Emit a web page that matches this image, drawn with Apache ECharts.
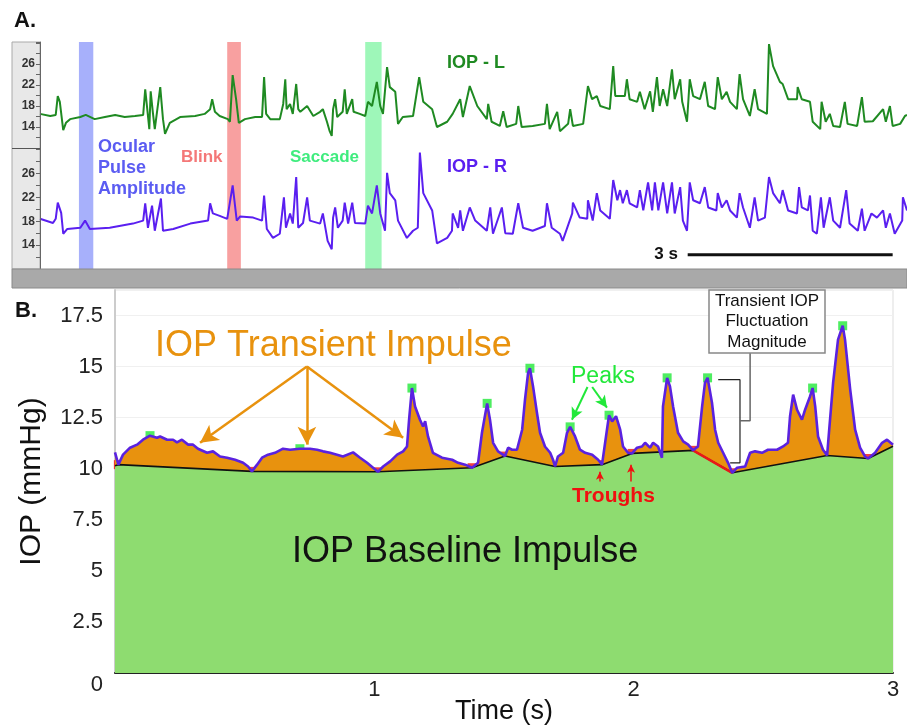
<!DOCTYPE html>
<html><head><meta charset="utf-8">
<script src="https://cdn.jsdelivr.net/npm/echarts@6/dist/echarts.min.js"></script>
<style>html,body{margin:0;padding:0;background:#fff}#c{width:907px;height:728px}</style>
</head><body><div id="c"></div>
<script>
// ---------- Panel A data: time (s), IOP (mmHg) ----------
const iopL = [[0.00,16.5],[0.15,16.1],[0.23,16.3],[0.26,19.9],[0.29,18.8],[0.34,13.4],[0.38,14.8],[0.44,15.5],[0.59,15.9],[0.67,16.3],[0.80,15.5],[0.95,15.9],[1.10,16.3],[1.24,15.9],[1.39,16.1],[1.51,16.3],[1.54,21.2],[1.57,17.4],[1.60,13.6],[1.62,20.8],[1.65,17.0],[1.68,13.6],[1.76,21.6],[1.80,15.5],[1.83,12.7],[1.90,14.8],[2.05,15.9],[2.27,16.1],[2.41,16.5],[2.49,17.4],[2.52,19.3],[2.56,16.9],[2.63,16.1],[2.75,15.5],[2.78,15.0],[2.82,23.9],[2.87,19.3],[2.91,14.8],[3.00,15.5],[3.15,15.9],[3.25,15.9],[3.28,23.5],[3.31,16.5],[3.37,15.5],[3.51,15.5],[3.56,18.4],[3.59,23.1],[3.61,17.4],[3.66,18.4],[3.70,16.5],[3.75,22.2],[3.78,17.4],[3.81,16.9],[3.91,18.0],[4.00,16.1],[4.10,16.9],[4.14,17.4],[4.20,15.0],[4.24,13.2],[4.27,12.3],[4.29,17.4],[4.32,19.3],[4.35,15.9],[4.43,16.9],[4.46,21.2],[4.49,16.5],[4.57,19.3],[4.59,16.9],[4.68,16.5],[4.76,16.1],[4.80,18.8],[4.86,18.0],[4.93,22.6],[4.98,18.0],[5.02,16.5],[5.08,25.4],[5.12,21.6],[5.20,20.7],[5.24,14.6],[5.31,15.9],[5.46,16.1],[5.55,23.5],[5.61,18.8],[5.74,17.4],[5.81,14.0],[5.96,15.0],[6.04,16.5],[6.15,19.3],[6.19,15.9],[6.29,21.8],[6.40,18.0],[6.54,15.5],[6.56,18.4],[6.61,15.0],[6.73,14.2],[6.78,17.0],[6.83,14.0],[6.97,14.6],[7.00,18.0],[7.05,14.0],[7.21,14.2],[7.39,14.6],[7.42,18.4],[7.46,13.6],[7.57,16.9],[7.61,13.2],[7.73,14.6],[7.76,17.4],[7.80,14.2],[7.95,14.6],[8.02,21.8],[8.08,19.3],[8.15,19.9],[8.20,18.0],[8.34,17.4],[8.39,25.6],[8.42,19.9],[8.56,19.9],[8.59,23.1],[8.63,19.3],[8.74,18.8],[8.78,20.7],[8.85,17.4],[8.93,20.8],[8.97,16.9],[9.03,23.5],[9.07,18.0],[9.12,21.2],[9.18,18.0],[9.25,25.0],[9.29,19.3],[9.37,23.1],[9.40,18.8],[9.47,15.0],[9.51,23.1],[9.56,19.9],[9.66,19.3],[9.73,22.6],[9.78,18.0],[9.88,17.4],[9.92,23.5],[9.98,19.3],[10.05,20.7],[10.10,18.8],[10.20,17.4],[10.24,24.1],[10.29,19.3],[10.39,16.1],[10.46,21.2],[10.51,17.4],[10.64,16.5],[10.67,29.8],[10.73,25.6],[10.83,22.6],[10.87,22.2],[10.95,19.3],[11.08,19.3],[11.09,21.6],[11.15,19.3],[11.27,18.8],[11.31,15.0],[11.42,13.6],[11.44,18.8],[11.50,15.0],[11.56,16.5],[11.61,14.2],[11.71,14.0],[11.78,18.8],[11.82,14.6],[11.96,14.2],[12.03,19.7],[12.07,15.0],[12.19,15.1],[12.34,17.4],[12.38,15.0],[12.44,18.0],[12.48,14.2],[12.59,14.6],[12.66,16.1],[12.69,16.3]];
const iopR = [[0.00,18.4],[0.19,17.7],[0.23,18.4],[0.26,21.1],[0.31,19.4],[0.34,15.9],[0.40,16.7],[0.59,16.9],[0.66,18.1],[0.73,16.7],[1.02,16.9],[1.36,17.6],[1.51,18.1],[1.54,21.0],[1.58,16.9],[1.64,20.6],[1.68,16.4],[1.77,21.8],[1.80,16.4],[1.95,16.7],[2.20,17.6],[2.46,18.1],[2.49,21.0],[2.53,19.3],[2.63,18.9],[2.74,18.4],[2.82,24.0],[2.88,18.1],[2.93,18.8],[3.12,18.6],[3.25,18.1],[3.28,22.3],[3.32,16.7],[3.41,15.2],[3.51,15.9],[3.57,22.0],[3.60,16.9],[3.66,19.3],[3.70,17.6],[3.75,25.4],[3.78,16.9],[3.85,17.7],[3.91,22.0],[3.95,18.1],[4.10,17.6],[4.14,19.3],[4.21,14.7],[4.27,13.3],[4.29,18.6],[4.32,20.3],[4.36,16.9],[4.43,18.1],[4.46,21.1],[4.51,17.6],[4.57,21.1],[4.61,17.7],[4.76,17.6],[4.80,20.6],[4.86,19.3],[4.93,24.0],[4.98,19.3],[5.05,16.4],[5.08,26.1],[5.12,22.7],[5.20,21.5],[5.24,18.1],[5.37,15.2],[5.46,16.4],[5.53,16.9],[5.56,29.5],[5.61,22.7],[5.74,19.8],[5.81,14.3],[5.96,15.2],[6.03,16.4],[6.04,19.3],[6.12,16.9],[6.15,19.8],[6.19,16.4],[6.29,20.3],[6.37,18.1],[6.54,16.4],[6.59,20.3],[6.63,15.9],[6.76,20.3],[6.81,16.0],[6.92,15.9],[7.00,21.0],[7.07,16.9],[7.21,16.4],[7.39,17.2],[7.42,21.0],[7.49,16.9],[7.61,15.9],[7.65,14.7],[7.79,19.3],[7.80,21.1],[7.90,18.6],[8.01,18.4],[8.02,21.5],[8.09,18.1],[8.15,22.7],[8.20,19.8],[8.34,18.4],[8.39,24.9],[8.45,21.5],[8.49,23.2],[8.53,21.0],[8.59,23.2],[8.63,21.0],[8.74,20.3],[8.78,23.2],[8.83,19.8],[8.90,24.5],[8.96,19.8],[9.00,24.5],[9.05,19.8],[9.12,24.5],[9.18,19.3],[9.25,24.5],[9.29,19.3],[9.37,23.7],[9.41,18.1],[9.47,16.4],[9.51,24.5],[9.56,21.5],[9.66,21.0],[9.73,23.7],[9.78,20.3],[9.90,19.8],[9.92,22.7],[9.98,20.3],[10.05,21.5],[10.10,19.8],[10.20,18.6],[10.24,22.7],[10.29,20.3],[10.39,16.9],[10.46,22.0],[10.51,18.1],[10.61,18.6],[10.67,25.4],[10.73,22.7],[10.83,21.0],[10.87,23.2],[10.95,19.8],[11.08,19.3],[11.11,23.7],[11.15,20.3],[11.24,19.8],[11.27,22.3],[11.31,16.4],[11.37,15.9],[11.43,22.0],[11.47,16.9],[11.56,22.0],[11.61,18.1],[11.71,16.9],[11.80,23.2],[11.85,17.6],[11.97,16.4],[12.03,20.1],[12.07,16.4],[12.17,19.3],[12.25,18.6],[12.34,19.8],[12.38,16.9],[12.44,19.3],[12.51,15.9],[12.62,18.1],[12.63,22.0],[12.69,19.8]];
const bandsA = [[0.57,0.78,'rgba(79,97,247,0.5)'],[2.74,2.94,'rgba(241,65,65,0.5)'],[4.76,5.00,'rgba(61,239,115,0.5)']];
const scaleBar = [[9.48,12.4],[12.48,12.4]];
const ticksA = [14,18,22,26];

// ---------- Panel B data: time (s), IOP (mmHg) ----------
const signalB = [[0.000,10.80],[0.013,10.20],[0.031,10.69],[0.058,11.03],[0.085,11.18],[0.108,11.42],[0.135,11.62],[0.162,11.52],[0.174,11.58],[0.201,11.42],[0.224,11.42],[0.239,11.29],[0.258,11.42],[0.282,11.18],[0.301,11.18],[0.320,10.98],[0.355,10.78],[0.378,10.85],[0.405,10.60],[0.432,10.54],[0.463,10.44],[0.494,10.29],[0.513,10.11],[0.528,9.87],[0.548,10.20],[0.567,10.54],[0.590,10.69],[0.617,10.78],[0.648,10.98],[0.675,10.93],[0.713,10.98],[0.752,10.98],[0.779,10.93],[0.802,10.85],[0.829,10.78],[0.856,10.69],[0.879,10.60],[0.918,10.80],[0.945,10.54],[0.972,10.29],[0.995,10.05],[1.014,9.85],[1.034,10.11],[1.061,10.36],[1.088,10.69],[1.111,10.85],[1.126,11.09],[1.134,12.40],[1.145,13.95],[1.157,13.05],[1.176,12.40],[1.188,12.07],[1.196,12.32],[1.207,11.58],[1.226,10.78],[1.261,10.54],[1.300,10.44],[1.323,10.29],[1.350,10.20],[1.377,10.05],[1.400,10.29],[1.415,11.76],[1.435,13.20],[1.446,12.40],[1.458,11.27],[1.477,10.85],[1.504,10.62],[1.516,11.03],[1.531,10.93],[1.550,10.93],[1.570,11.91],[1.581,13.38],[1.593,14.70],[1.600,14.92],[1.612,14.03],[1.627,12.74],[1.639,11.76],[1.658,11.09],[1.678,10.78],[1.689,10.44],[1.697,10.11],[1.708,10.60],[1.728,10.78],[1.743,11.76],[1.755,12.05],[1.774,11.58],[1.793,10.93],[1.813,10.78],[1.840,10.69],[1.863,10.44],[1.878,10.20],[1.897,11.91],[1.905,12.62],[1.917,12.32],[1.932,12.57],[1.948,11.91],[1.959,11.09],[1.978,10.78],[1.994,10.75],[2.013,11.03],[2.032,11.09],[2.044,11.27],[2.063,11.03],[2.075,11.27],[2.094,11.09],[2.109,10.54],[2.113,13.05],[2.129,14.45],[2.140,14.03],[2.152,13.05],[2.171,11.76],[2.191,11.34],[2.210,11.18],[2.229,10.90],[2.248,11.09],[2.264,13.05],[2.275,14.20],[2.285,14.45],[2.302,13.23],[2.314,11.91],[2.326,11.27],[2.345,10.78],[2.364,10.29],[2.380,9.80],[2.399,10.05],[2.430,10.11],[2.449,10.78],[2.468,10.85],[2.495,10.78],[2.518,10.93],[2.553,10.93],[2.576,11.09],[2.595,11.27],[2.603,12.57],[2.615,13.63],[2.630,12.89],[2.649,12.40],[2.661,12.89],[2.680,13.54],[2.690,13.95],[2.700,13.05],[2.711,11.58],[2.730,10.93],[2.746,10.65],[2.754,11.91],[2.769,14.20],[2.788,16.32],[2.806,17.00],[2.815,16.32],[2.835,13.87],[2.854,11.91],[2.873,11.03],[2.892,10.60],[2.904,10.50],[2.931,10.78],[2.958,11.27],[2.977,11.42],[3.000,11.18]];
const troughsB = [[0.013,10.2],[0.528,9.87],[1.014,9.85],[1.377,10.05],[1.504,10.62],[1.697,10.11],[1.878,10.2],[1.994,10.75],[2.229,10.9],[2.38,9.8],[2.746,10.65],[2.904,10.5]];
const baselineB = [[0,10.15]].concat(troughsB, [[3.0,11.1]]);
const peaksB = [[0.135,11.62],[0.713,10.98],[1.145,13.95],[1.435,13.2],[1.6,14.92],[1.755,12.05],[1.905,12.62],[2.129,14.45],[2.285,14.45],[2.69,13.95],[2.806,17.0]];
const highlightSeg = [[2.229,10.9],[2.38,9.8]];
const yellowPt = [[2.30,10.38]];
const bracketB = [[2.326,14.36],[2.41,14.36],[2.41,10.29],[2.372,10.29]];
const connectorB = [[2.449,15.69],[2.449,12.35],[2.41,12.35]];
const transientArrows = [[[0.740,15.0],[0.328,11.27]],[[0.740,15.0],[0.740,11.18]],[[0.740,15.0],[1.111,11.52]]];
const peakArrows = [[[1.822,14.0],[1.762,12.40]],[[1.840,14.0],[1.897,12.99]]];
const troughArrows = [[[1.870,9.38],[1.870,9.85]],[[1.990,9.38],[1.990,10.2]]];
const yTicksB = [0,2.5,5,7.5,10,12.5,15,17.5];
const xTicksB = [1,2,3];

const FONT = "'Liberation Sans', Arial, Helvetica, sans-serif";
const chart = echarts.init(document.getElementById('c'), null, {renderer:'canvas'});

function yAxisA(idx, max){
  return {gridIndex: idx, type:'value', min:10, max:max, interval:2, z:10,
    axisLine:{show:true, lineStyle:{color:'#666', width:1}},
    axisTick:{show:true, length:4, lineStyle:{color:'#666'}},
    splitLine:{show:false},
    axisLabel:{margin:5, fontSize:12, fontWeight:'bold', color:'#333', fontFamily:FONT,
      formatter: v => ticksA.includes(v) ? String(v) : ''}};
}
function xAxisA(idx){ return {gridIndex: idx, type:'value', min:0, max:12.69, show:false}; }
function arrowLines(list){ return list.map(p => [{coord:p[0]},{coord:p[1]}]); }
function txt(x, y, text, font, fill, align){
  return {type:'text', x:x, y:y, z:50, silent:true,
    style:{text:text, font:font, fill:fill, align:align||'left', verticalAlign:'middle', textAlign:align||'left', textVerticalAlign:'middle'}};
}

const option = {
  animation:false,
  backgroundColor:'#fff',
  grid:[
    {left:40, right:0, top:42, height:106, outerBoundsMode:'none', containLabel:false},
    {left:40, right:0, top:148, height:121, outerBoundsMode:'none', containLabel:false},
    {left:115, right:14, top:290, bottom:55, outerBoundsMode:'none', containLabel:false,
      show:true, borderColor:'#ddd', borderWidth:1, backgroundColor:'#fff'}
  ],
  xAxis:[
    xAxisA(0), xAxisA(1),
    {gridIndex:2, type:'value', min:0, max:3, interval:1,
      name:'Time (s)', nameLocation:'middle', nameGap:25, nameMoveOverlap:false,
      nameTextStyle:{fontSize:27, color:'#111', fontFamily:FONT},
      axisLine:{show:true, lineStyle:{color:'#222', width:2}}, axisTick:{show:false}, splitLine:{show:false},
      axisLabel:{margin:6, fontSize:22, color:'#222', fontFamily:FONT, formatter: v => xTicksB.includes(v) ? String(v) : ''}}
  ],
  yAxis:[
    yAxisA(0, 30.2), yAxisA(1, 30.25),
    {gridIndex:2, type:'value', min:0, max:18.75, interval:2.5,
      name:'IOP (mmHg)', nameLocation:'middle', nameGap:68, nameMoveOverlap:false,
      nameTextStyle:{fontSize:30, color:'#111', fontFamily:FONT},
      axisLine:{show:true, lineStyle:{color:'#ccc', width:2}}, axisTick:{show:false},
      splitLine:{show:true, lineStyle:{color:'#f0f0f0'}},
      axisLabel:{margin:12, fontSize:22, color:'#222', fontFamily:FONT,
        formatter: v => v === 0 ? '{z|0}' : (yTicksB.includes(v) ? String(v) : ''),
        rich:{z:{fontSize:22, color:'#222', fontFamily:FONT, padding:[24,0,0,0]}}}}
  ],
  series:[
    {type:'line', xAxisIndex:0, yAxisIndex:0, data:iopL, showSymbol:false, symbol:'none',
      lineStyle:{color:'#1f8a22', width:2}, silent:true},
    {type:'line', xAxisIndex:1, yAxisIndex:1, data:iopR, showSymbol:false, symbol:'none',
      lineStyle:{color:'#5a1ff0', width:2}, silent:true},
    {type:'line', xAxisIndex:0, yAxisIndex:0, data:[], silent:true,
      markArea:{silent:true, data: bandsA.map(b => [{xAxis:b[0], itemStyle:{color:b[2]}},{xAxis:b[1]}])}},
    {type:'line', xAxisIndex:1, yAxisIndex:1, data:[], silent:true,
      markArea:{silent:true, data: bandsA.map(b => [{xAxis:b[0], itemStyle:{color:b[2]}},{xAxis:b[1]}])}},
    {type:'line', xAxisIndex:1, yAxisIndex:1, data:scaleBar, symbol:'none', silent:true,
      lineStyle:{color:'#111', width:3},
      label:{show:false}},
    // Panel B
    {type:'line', xAxisIndex:2, yAxisIndex:2, data:signalB, symbol:'none', silent:true,
      lineStyle:{width:0}, areaStyle:{color:'#e8920e', opacity:1}},
    {type:'line', xAxisIndex:2, yAxisIndex:2, data:baselineB, symbol:'none', silent:true,
      lineStyle:{color:'#111', width:1.6}, areaStyle:{color:'#8edc70', opacity:1}},
    {type:'line', xAxisIndex:2, yAxisIndex:2, data:highlightSeg, symbol:'none', silent:true,
      lineStyle:{color:'#e81818', width:2.5}},
    {type:'line', xAxisIndex:2, yAxisIndex:2, data:signalB, symbol:'none', silent:true,
      lineStyle:{color:'#5a22e0', width:2.6}},
    {type:'line', xAxisIndex:2, yAxisIndex:2, data:bracketB, symbol:'none', silent:true,
      lineStyle:{color:'#222', width:1.2}},
    {type:'line', xAxisIndex:2, yAxisIndex:2, data:connectorB, symbol:'none', silent:true,
      lineStyle:{color:'#666', width:1.5}},
    {type:'scatter', xAxisIndex:2, yAxisIndex:2, data:troughsB, symbol:'rect', symbolSize:9, silent:true,
      itemStyle:{color:'#f01010'}},
    {type:'scatter', xAxisIndex:2, yAxisIndex:2, data:peaksB, symbol:'rect', symbolSize:9, silent:true,
      itemStyle:{color:'#22e83a'}},
    {type:'scatter', xAxisIndex:2, yAxisIndex:2, data:yellowPt, symbol:'circle', symbolSize:11, silent:true,
      itemStyle:{color:'#f4f43c', borderColor:'#c8c800', borderWidth:1}},
    {type:'line', xAxisIndex:2, yAxisIndex:2, data:[], silent:true,
      markLine:{silent:true, symbol:['none','arrow'], symbolSize:[14,18], label:{show:false},
        lineStyle:{color:'#e8920e', width:2.5, type:'solid'}, data:arrowLines(transientArrows)}},
    {type:'line', xAxisIndex:2, yAxisIndex:2, data:[], silent:true,
      markLine:{silent:true, symbol:['none','arrow'], symbolSize:[9,12], label:{show:false},
        lineStyle:{color:'#22e83a', width:2, type:'solid'}, data:arrowLines(peakArrows)}},
    {type:'line', xAxisIndex:2, yAxisIndex:2, data:[], silent:true,
      markLine:{silent:true, symbol:['none','arrow'], symbolSize:[6,8], label:{show:false},
        lineStyle:{color:'#f01010', width:1.5, type:'solid'}, data:arrowLines(troughArrows)}}
  ],
  graphic:[
    {type:'rect', z:1, silent:true, shape:{x:12, y:42, width:28, height:227}, style:{fill:'#e8e8e8', stroke:'#aaa', lineWidth:1}},
    {type:'line', z:40, silent:true, shape:{x1:12, y1:148.5, x2:40, y2:148.5}, style:{stroke:'#555', lineWidth:1}},
    {type:'rect', z:40, silent:true, shape:{x:12, y:269, width:895, height:19}, style:{fill:'#a9a9a9', stroke:'#8a8a8a', lineWidth:1}},
    txt(14, 21, 'A.', 'bold 22px '+FONT, '#111'),
    txt(15, 311, 'B.', 'bold 22px '+FONT, '#111'),
    txt(447, 63, 'IOP - L', 'bold 18px '+FONT, '#1f8a22'),
    txt(447, 167, 'IOP - R', 'bold 18px '+FONT, '#5a1ff0'),
    txt(98, 147, 'Ocular', 'bold 18px '+FONT, '#5b5cf2'),
    txt(98, 168, 'Pulse', 'bold 18px '+FONT, '#5b5cf2'),
    txt(98, 189, 'Amplitude', 'bold 18px '+FONT, '#5b5cf2'),
    txt(181, 157, 'Blink', 'bold 17px '+FONT, '#f47878'),
    txt(290, 157, 'Saccade', 'bold 17px '+FONT, '#3fec7e'),
    txt(678, 254, '3 s', 'bold 17px '+FONT, '#111', 'right'),
    txt(155, 346, 'IOP Transient Impulse', '36px '+FONT, '#e8920e'),
    txt(292, 552, 'IOP Baseline Impulse', '36px '+FONT, '#111'),
    txt(571, 377, 'Peaks', '23px '+FONT, '#22e83a'),
    txt(572, 496, 'Troughs', 'bold 21px '+FONT, '#f01010'),
    {type:'rect', z:45, silent:true, shape:{x:709, y:290, width:116, height:63}, style:{fill:'#fff', stroke:'#888', lineWidth:1.5}},
    {type:'text', x:767, y:321.5, z:50, silent:true,
      style:{text:'Transient IOP\nFluctuation\nMagnitude', font:'17px '+FONT, fill:'#111', lineHeight:20.5,
        align:'center', verticalAlign:'middle', textAlign:'center', textVerticalAlign:'middle'}}
  ]
};
chart.setOption(option);
</script>
</body></html>
